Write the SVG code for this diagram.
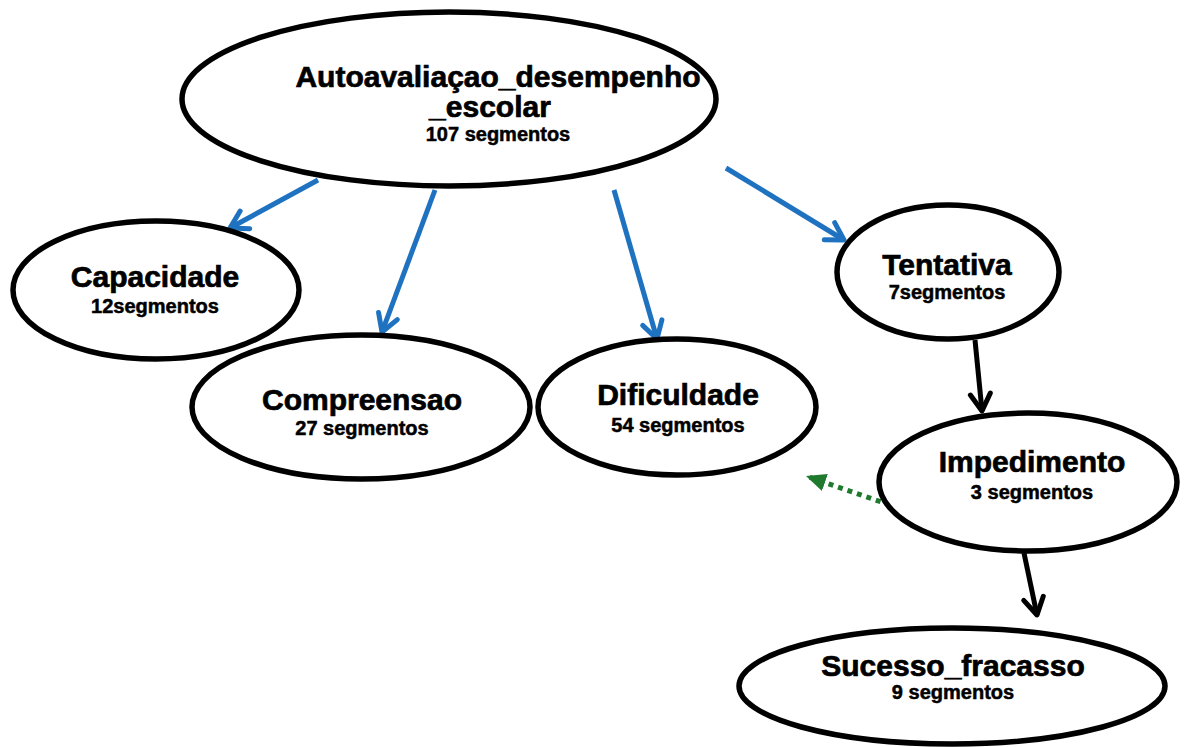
<svg xmlns="http://www.w3.org/2000/svg" width="1190" height="747" viewBox="0 0 1190 747">
  <style>
    .node { fill: #ffffff; stroke: #000000; stroke-width: 5.5; }
    .title { font-family: "Liberation Sans", Arial, sans-serif; font-weight: bold; font-size: 30px; fill: #000000; stroke: #000000; stroke-width: 0.7; text-anchor: middle; }
    .count { font-family: "Liberation Sans", Arial, sans-serif; font-weight: bold; font-size: 20px; fill: #000000; stroke: #000000; stroke-width: 0.5; text-anchor: middle; }
    .blue { stroke: #1f72c0; stroke-width: 5; fill: none; marker-end: url(#openBlue); }
    .black { stroke: #000000; stroke-width: 5; fill: none; marker-end: url(#openBlack); }
    .green { stroke: #1f7a2e; stroke-width: 5; fill: none; stroke-dasharray: 5 5; marker-end: url(#solidGreen); }
  </style>
  <defs>
    <marker id="openBlue" markerUnits="userSpaceOnUse" viewBox="0 0 26 26" markerWidth="26" markerHeight="26" refX="22" refY="13" orient="auto">
      <path d="M5,3 L22,13 L5,23" fill="none" stroke="#1f72c0" stroke-width="5" stroke-linecap="round" stroke-linejoin="round"/>
    </marker>
    <marker id="openBlack" markerUnits="userSpaceOnUse" viewBox="0 0 26 26" markerWidth="26" markerHeight="26" refX="22" refY="13" orient="auto">
      <path d="M5,3 L22,13 L5,23" fill="none" stroke="#000000" stroke-width="5" stroke-linecap="round" stroke-linejoin="round"/>
    </marker>
    <marker id="solidGreen" markerUnits="userSpaceOnUse" viewBox="0 0 22 22" markerWidth="22" markerHeight="22" refX="20" refY="11" orient="auto">
      <path d="M0,2 L20,11 L0,20 Z" fill="#1f7a2e"/>
    </marker>
  </defs>

  <g id="connectors">
    <line class="blue" x1="318" y1="180" x2="230" y2="228"/>
    <line class="blue" x1="435" y1="190" x2="382" y2="332"/>
    <line class="blue" x1="614" y1="190" x2="657" y2="339"/>
    <line class="blue" x1="726" y1="168" x2="844" y2="240"/>
    <line class="black" x1="975" y1="340" x2="982" y2="411"/>
    <line class="black" x1="1024" y1="553" x2="1037" y2="615"/>
    <line class="green" x1="890" y1="505" x2="806" y2="476"/>
  </g>

  <g id="autoavaliacao">
    <ellipse class="node" cx="449" cy="99" rx="267" ry="87"/>
    <text class="title" x="498" y="87">Autoavaliaçao_desempenho</text>
    <text class="title" x="490" y="117">_escolar</text>
    <text class="count" x="498" y="141">107 segmentos</text>
  </g>

  <g id="capacidade">
    <ellipse class="node" cx="156" cy="290" rx="143" ry="69"/>
    <text class="title" x="155" y="287">Capacidade</text>
    <text class="count" x="155" y="313">12segmentos</text>
  </g>

  <g id="compreensao">
    <ellipse class="node" cx="361" cy="407" rx="169" ry="72"/>
    <text class="title" x="362" y="410">Compreensao</text>
    <text class="count" x="362" y="435">27 segmentos</text>
  </g>

  <g id="dificuldade">
    <ellipse class="node" cx="677" cy="407" rx="139" ry="68"/>
    <text class="title" x="678" y="405">Dificuldade</text>
    <text class="count" x="678" y="432">54 segmentos</text>
  </g>

  <g id="tentativa">
    <ellipse class="node" cx="948" cy="272" rx="111" ry="67"/>
    <text class="title" x="947" y="275">Tentativa</text>
    <text class="count" x="947" y="299">7segmentos</text>
  </g>

  <g id="impedimento">
    <ellipse class="node" cx="1028" cy="482" rx="149" ry="69"/>
    <text class="title" x="1032" y="472">Impedimento</text>
    <text class="count" x="1032" y="499">3 segmentos</text>
  </g>

  <g id="sucesso-fracasso">
    <ellipse class="node" cx="952" cy="686" rx="213" ry="58"/>
    <text class="title" x="953" y="676">Sucesso_fracasso</text>
    <text class="count" x="953" y="699">9 segmentos</text>
  </g>
</svg>
